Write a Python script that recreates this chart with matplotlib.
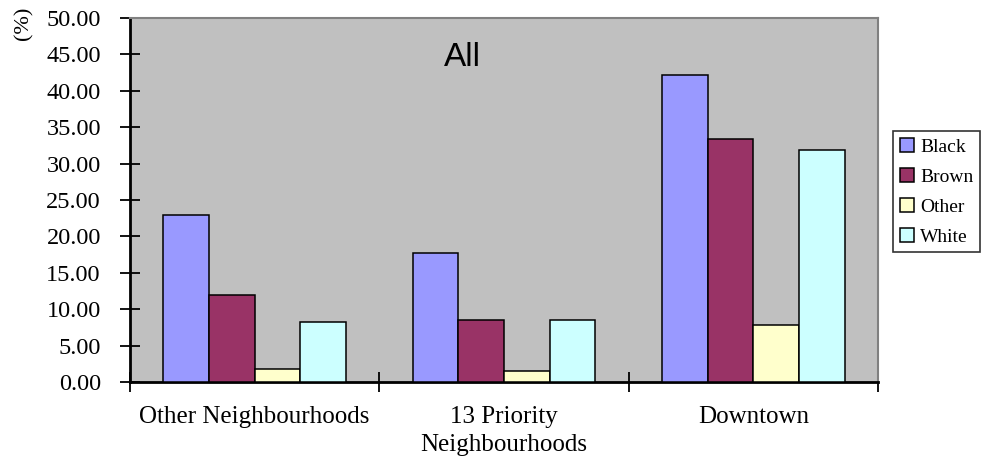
import matplotlib
matplotlib.use("Agg")
import matplotlib.pyplot as plt
import numpy as np

# Share of each group (%) by area
categories = ["Other Neighbourhoods", "13 Priority\nNeighbourhoods", "Downtown"]
series_names = ["Black", "Brown", "Other", "White"]
black = [22.9, 17.7, 42.2]
brown = [12.0, 8.5, 33.4]
other = [1.75, 1.55, 7.85]
white = [8.25, 8.5, 31.9]
values = [black, brown, other, white]
colors = ["#9999FF", "#993366", "#FFFFCC", "#CCFFFF"]
yticks = np.arange(0, 50.01, 5)

serif = ["Liberation Serif", "DejaVu Serif"]

fig = plt.figure(figsize=(9.81, 4.59), dpi=100)
ax = fig.add_axes([130 / 981, 1 - 382 / 459, 748 / 981, 364 / 459])
ax.set_facecolor("#C0C0C0")

x = np.arange(len(categories))
width = 0.183
for i, (name, vals, col) in enumerate(zip(series_names, values, colors)):
    offs = (i - 1.5) * width
    ax.bar(x + offs, vals, width, color=col, edgecolor="black",
           linewidth=1.1, label=name, zorder=3)

ax.set_xlim(-0.5, len(categories) - 0.5)
ax.set_ylim(0, 50)

ax.set_yticks(yticks)
ax.set_yticklabels([f"{v:.2f}" for v in yticks], fontfamily=serif, fontsize=17.5)
ax.tick_params(axis="y", direction="inout", length=14, width=1.3, pad=14)

ax.set_xticks(np.arange(-0.5, len(categories), 1.0))
ax.set_xticklabels([])
ax.tick_params(axis="x", which="major", direction="inout", length=15, width=1.3)
ax.set_xticks(x, minor=True)
ax.set_xticklabels(categories, minor=True, fontfamily=serif, fontsize=18,
                   linespacing=1.35)
ax.tick_params(axis="x", which="minor", length=0, pad=17)

for side in ("left", "bottom"):
    ax.spines[side].set_color("black")
    ax.spines[side].set_linewidth(2)
for side in ("top", "right"):
    ax.spines[side].set_color("#808080")
    ax.spines[side].set_linewidth(1.5)

ax.text((462 - 130) / 748, (382 - 57) / 364, "All", transform=ax.transAxes,
        ha="center", va="center", fontsize=24, fontfamily="Liberation Sans")

fig.text(24 / 981, 1 - 7 / 459, "(%)", rotation=90, ha="center", va="top",
         fontsize=16, fontfamily=serif)

leg = fig.legend(loc="upper left", bbox_to_anchor=(893 / 981, 1 - 131 / 459),
                 prop={"family": serif, "size": 14}, frameon=True, fancybox=False,
                 edgecolor="black", handlelength=0.75, handleheight=0.75,
                 handletextpad=0.3, borderpad=0.35, labelspacing=0.62,
                 borderaxespad=0)
leg.get_frame().set_linewidth(1.2)

fig.savefig("out.png", dpi=100, facecolor="white")
